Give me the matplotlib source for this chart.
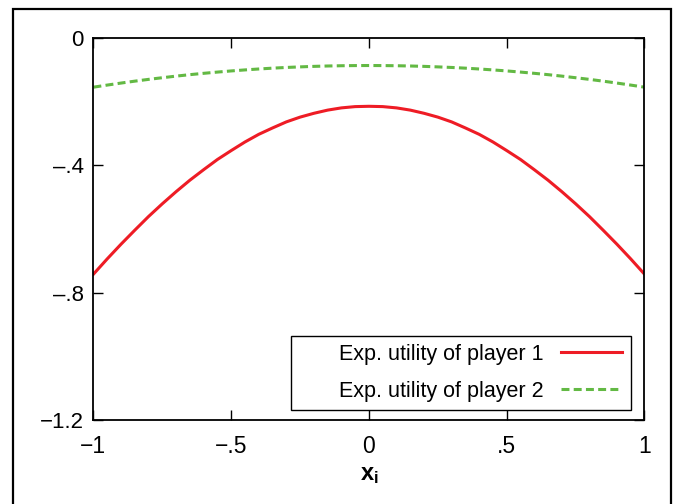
import matplotlib
matplotlib.use('Agg')
import matplotlib.pyplot as plt
from matplotlib.patches import Rectangle

# values (curves are symmetric around 0)
x_vals = [-1.0, -0.95, -0.9, -0.85, -0.8, -0.75, -0.7, -0.65, -0.6, -0.55, -0.5,
          -0.45, -0.4, -0.35, -0.3, -0.25, -0.2, -0.15, -0.1, -0.05, 0.0,
          0.05, 0.1, 0.15, 0.2, 0.25, 0.3, 0.35, 0.4, 0.45, 0.5,
          0.55, 0.6, 0.65, 0.7, 0.75, 0.8, 0.85, 0.9, 0.95, 1.0]
player1 = [-0.742, -0.694, -0.648, -0.604, -0.561, -0.521, -0.483, -0.447, -0.414, -0.382, -0.354,
           -0.327, -0.303, -0.283, -0.264, -0.249, -0.237, -0.227, -0.220, -0.216, -0.215,
           -0.216, -0.220, -0.227, -0.237, -0.249, -0.264, -0.283, -0.303, -0.327, -0.354,
           -0.382, -0.414, -0.447, -0.483, -0.521, -0.561, -0.604, -0.648, -0.694, -0.742]
player2 = [-0.1550, -0.1484, -0.1421, -0.1361, -0.1305, -0.1253, -0.1203, -0.1157, -0.1115, -0.1076, -0.1040,
           -0.1008, -0.0979, -0.0953, -0.0931, -0.0913, -0.0897, -0.0885, -0.0877, -0.0872, -0.0870,
           -0.0872, -0.0877, -0.0885, -0.0897, -0.0913, -0.0931, -0.0953, -0.0979, -0.1008, -0.1040,
           -0.1076, -0.1115, -0.1157, -0.1203, -0.1253, -0.1305, -0.1361, -0.1421, -0.1484, -0.1550]
labels = ['Exp. utility of player 1', 'Exp. utility of player 2']

x_ticks = [-1, -0.5, 0, 0.5, 1]
x_ticklabels = ['\u22121', '\u2212.5', '0', '.5', '1']
y_ticks = [0, -0.4, -0.8, -1.2]
y_ticklabels = ['0', '\u2013.4', '\u2013.8', '\u22121.2']

plt.rcParams['font.family'] = ['Liberation Sans', 'DejaVu Sans']
plt.rcParams['mathtext.fontset'] = 'custom'
plt.rcParams['mathtext.rm'] = 'Liberation Sans'
plt.rcParams['mathtext.bf'] = 'Liberation Sans:bold'
plt.rcParams['mathtext.it'] = 'Liberation Sans:italic'

fig = plt.figure(figsize=(6.82, 5.04), dpi=100)
ax = fig.add_axes([0.137, 0.1665, 0.808, 0.7585])

ax.plot(x_vals, player1, color='#ee1c25', lw=2.2, label=labels[0])
ax.plot(x_vals, player2, color='#63b944', lw=2.2, dashes=(2.6, 1.4), label=labels[1])

ax.set_xlim(-1, 1)
ax.set_ylim(-1.2, 0)
ax.set_xticks(x_ticks)
ax.set_xticklabels(x_ticklabels)
ax.set_yticks(y_ticks)
ax.set_yticklabels(y_ticklabels)
ax.tick_params(direction='in', length=7, width=1, top=True, right=True)
ax.tick_params(axis='x', labelsize=16.5, pad=11)
ax.tick_params(axis='y', labelsize=16, pad=7)
for s in ax.spines.values():
    s.set_linewidth(1.3)

ax.set_xlabel(r'$\mathbf{x}_\mathbf{i}$', fontsize=17, labelpad=4)

# legend frame drawn by hand (gnuplot style: wide box, text right-aligned)
ax.add_patch(Rectangle((0.358, 0.026), 0.617, 0.194, transform=ax.transAxes,
                       fill=False, edgecolor='black', lw=1.0, zorder=4))
leg = ax.legend(loc='lower right', bbox_to_anchor=(0.975, 0.026), borderaxespad=0,
                markerfirst=False, frameon=False, fontsize=15.5,
                handlelength=2.85, handletextpad=0.8, borderpad=0.4, labelspacing=0.72)
for t in leg.get_texts():
    t.set_ha('right')

# outer frame around the whole picture
fig.patches.append(Rectangle((0.019, -0.05), 0.965, 1.032, transform=fig.transFigure,
                             fill=False, edgecolor='black', lw=1.6))

fig.savefig('out.png', dpi=100)
